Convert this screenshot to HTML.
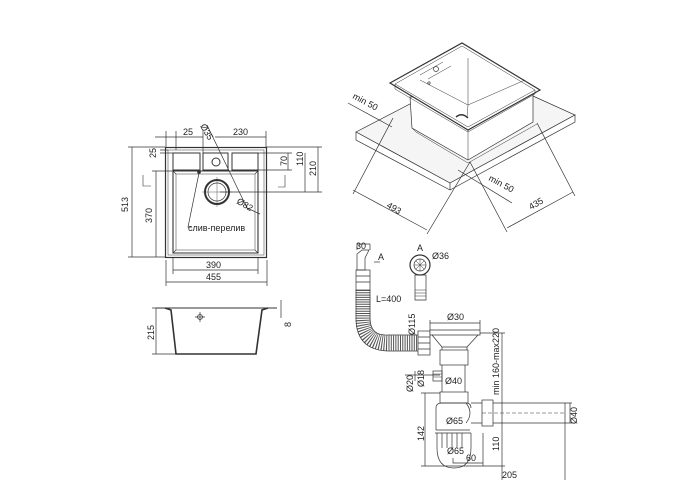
<!DOCTYPE html>
<html><head><meta charset="utf-8"><style>
html,body{margin:0;padding:0;background:#fff;}
svg{display:block;}
text{font-family:"Liberation Sans",sans-serif;fill:#222;font-size:9px;}
</style></head><body>
<svg width="700" height="500" viewBox="0 0 700 500" xmlns="http://www.w3.org/2000/svg">
<g fill="none" stroke="#333" stroke-width="0.7">
<!-- TOP VIEW -->
<rect x="165.5" y="147.5" width="101" height="110" stroke-width="1.2"/>
<rect x="168" y="150" width="96" height="105" stroke-width="0.5"/>
<path d="M173 171 L258 171 L258 253 L173 253 Z" stroke-width="1.1"/>
<path d="M176 174 L255 174 L255 250 L176 250 Z" stroke-width="0.5"/>
<path d="M173 171 L176 174 M258 171 L255 174 M173 253 L176 250 M258 253 L255 250"/>
<rect x="173" y="153" width="27" height="17" stroke-width="1"/>
<rect x="203" y="153" width="25" height="17" stroke-width="1"/>
<rect x="232" y="153" width="26" height="17" stroke-width="1"/>
<circle cx="216" cy="162" r="4" stroke-width="1"/>
<circle cx="217" cy="192" r="12" stroke-width="2"/>
<circle cx="217" cy="192" r="9" stroke-width="0.7"/>
<circle cx="199" cy="172" r="1.5" fill="#333"/>
<path d="M217 177 V207 M202 192 H232" stroke-width="0.4"/>
<path d="M132 147 V257 M128 147 H165 M128 257 H165" />
<path d="M156 171 V257 M152 171 H173"/>
<path d="M155 137 H203 M166 131 V147 M176 131 V150 M203 130 V153"/>
<path d="M215 137 H266 M266 131 V147"/>
<path d="M160 150 H168 M160 153 H173"/>
<path d="M288 153 V170 M305 153 V192 M318 147 V192 M258 153 H292 M258 170 H292 M220 192 H322 M266 147 H322"/>
<path d="M207 125 L247 208 M247 208 L260 214"/>
<path d="M199 173 L188 227 L192 227"/>
<path d="M143 175 V186 H151 M285 175 V187 H278" stroke-width="0.6"/>
<path d="M173 270 H258 M173 257 V274 M258 257 V274 M166 282 H267 M166 260 V286 M267 260 V286"/>
</g>
<text x="183" y="135">25</text>
<text x="233" y="135">230</text>
<text transform="translate(200,126) rotate(60)" font-size="8.5">Ø35</text>
<text transform="translate(156,158) rotate(-90)">25</text>
<text transform="translate(128,212) rotate(-90)">513</text>
<text transform="translate(152,223) rotate(-90)">370</text>
<text transform="translate(287,166) rotate(-90)">70</text>
<text transform="translate(303,166) rotate(-90)">110</text>
<text transform="translate(316,176) rotate(-90)">210</text>
<text transform="translate(236,203) rotate(30)">Ø82</text>
<text x="188" y="231">слив-перелив</text>
<text x="206" y="268">390</text>
<text x="206" y="280">455</text>

<!-- SIDE VIEW -->
<g fill="none" stroke="#333" stroke-width="0.7">
<path d="M156 308 H277" stroke-width="1"/>
<path d="M165 308 L171 310 L176 354 L256 354 L262 310 L268 308" stroke-width="1.6"/>
<path d="M152 308 H166 M152 354 H176 M156 308 V354"/>
<path d="M281 300 V308 M281 308 V318"/>
<circle cx="200" cy="317" r="2.5"/>
<path d="M195 317 H205 M200 312 V322"/>
</g>
<text transform="translate(154,340) rotate(-90)">215</text>
<text transform="translate(291,327) rotate(-90)">8</text>

<!-- ISOMETRIC -->
<g stroke="#333" stroke-width="0.7">
<path d="M356 132 L410 104 L533 96 L575 115 L450 183 Z" fill="#f5f5f5"/>
<path d="M356 132 V140 L450 190 L575 122 V115 L450 183 Z" fill="#fff"/>
<path d="M450 183 V190" fill="none"/>
<path d="M410 97 L412 128 L468 160 L533 122 L533 93 Z" fill="#fff"/>
<path d="M468 130 V160 M412 128 L416 132 L468 163 L537 124" fill="none" stroke-width="0.5"/>
<path d="M390 83 L462 43 L540 90 L468 130 Z" fill="#fff" stroke-width="1.2"/>
<path d="M395 84 L462 46 L535 90 L468 127 Z" fill="none" stroke-width="0.5"/>
<path d="M395 84 V89 L468 132 L535 94 V90" fill="none" stroke-width="0.5"/>
<path d="M468 105 L525 80 M420 80 L468 105 M468 105 L467 118" fill="none" stroke-width="0.5"/>
<path d="M468 58 V105" fill="none" stroke-width="0.5"/>
<path d="M456 117 Q462 112 468 118" fill="none" stroke-width="1.5"/>
<path d="M420 75 L443 62 M428 79 L451 66" fill="none" stroke-width="0.5"/>
<circle cx="436" cy="69" r="2.5" fill="none"/>
<circle cx="429" cy="83" r="1.2" fill="none"/>
<path d="M393 118 L353 194 M353 190 L427 230 M470 162 L427 234 M470 162 L507 232 M537 123 L575 196 M507 228 L573 192" fill="none"/>
<path d="M348 103 L392 127 M458 170 L512 203" fill="none"/>
</g>
<text transform="translate(352,98) rotate(28)">min 50</text>
<text transform="translate(488,180) rotate(28)">min 50</text>
<text transform="translate(386,207) rotate(30)">493</text>
<text transform="translate(531,210) rotate(-30)">435</text>

<!-- SIPHON -->
<g fill="none" stroke="#333" stroke-width="0.7">
<path d="M357 270 V254 L362 250 H369 L365 258 V270 Z" fill="#fff"/>
<rect x="356" y="270" width="14" height="20"/>
<path d="M356 276 H370 M356 282 H370"/>
<path d="M363 290 V318 Q363 343 388 343 H418" stroke="#555" stroke-width="15" stroke-dasharray="1 1.3"/>
<path d="M356 290 V318 Q356 350 388 351 H418 M370 290 V318 Q370 336 388 335 H418"/>
<rect x="418" y="331" width="12" height="24" fill="#fff"/>
<path d="M418 337 H430 M418 343 H430 M418 349 H430"/>
<path d="M357 244 H370 M357 244 V250 M370 244 V250"/>
<path d="M374 262 H380"/>
<circle cx="420" cy="265" r="10" stroke-width="1.2"/>
<circle cx="420" cy="265" r="6"/>
<path d="M420 259 V271 M414 265 H426 M416 261 L424 269 M424 261 L416 269" stroke-width="0.5"/>
<path d="M415 275 H426 V300 H415 Z"/>
<path d="M415 290 H426 M415 293 H426 M415 296 H426" stroke-width="0.5"/>
<path d="M430 330 H480 V335 H430 Z" fill="#fff"/>
<path d="M430 323 H480 M430 320 V330 M480 320 V330"/>
<path d="M432 335 L442 347 H467 L478 335"/>
<path d="M442 347 V350 M467 347 V350"/>
<rect x="440" y="350" width="28" height="15"/>
<path d="M442 365 V392 M465 365 V392"/>
<rect x="433" y="371" width="9" height="10"/>
<path d="M433 374 H442 M433 377 H442" stroke-width="0.5"/>
<rect x="440" y="392" width="28" height="11"/>
<path d="M436 430 V408 Q436 403 442 403 H466 Q471 403 471 408"/>
<path d="M436 430 H470 M435 433 H471"/>
<path d="M437 433 V448 Q437 468 454 468 Q471 468 471 448 V433"/>
<path d="M442 433 V448 M447 433 V448 M452 433 V448 M457 433 V448 M462 433 V448"/>
<path d="M471 403 H482 M471 423 H482"/>
<path d="M466 403 Q474 413 466 423"/>
<rect x="482" y="400" width="11" height="26" fill="#fff"/>
<path d="M482 413 H565" stroke-dasharray="4 2" stroke-width="0.5"/>
<path d="M493 403 H565 V423 H493"/>
<path d="M570 403 V423 M565 403 H572 M565 423 H572"/>
<path d="M502 333 V480 M480 333 H505 M425 393 V466 M421 393 H440 M421 466 H505"/>
<path d="M453 458 V463 H483 M483 433 V466"/>
<path d="M565 423 V480"/>
<path d="M405 375 H440 M415 371 V381"/>
</g>
<text x="356" y="249">30</text>
<text x="378" y="260">A</text>
<text x="417" y="251">A</text>
<text x="432" y="259">Ø36</text>
<text x="376" y="302">L=400</text>
<text transform="translate(415,335) rotate(-90)">Ø115</text>
<text x="447" y="320">Ø30</text>
<text transform="translate(413,392) rotate(-90)">Ø20</text>
<text transform="translate(424,387) rotate(-90)">Ø18</text>
<text x="445" y="384">Ø40</text>
<text transform="translate(499,395) rotate(-90)" font-size="8.5">min 160-max220</text>
<text transform="translate(577,424) rotate(-90)">Ø40</text>
<text x="446" y="424">Ø65</text>
<text transform="translate(424,441) rotate(-90)">142</text>
<text x="447" y="454">Ø65</text>
<text x="466" y="461">60</text>
<text transform="translate(499,451) rotate(-90)">110</text>
<text x="502" y="478">205</text>
</svg>
</body></html>
